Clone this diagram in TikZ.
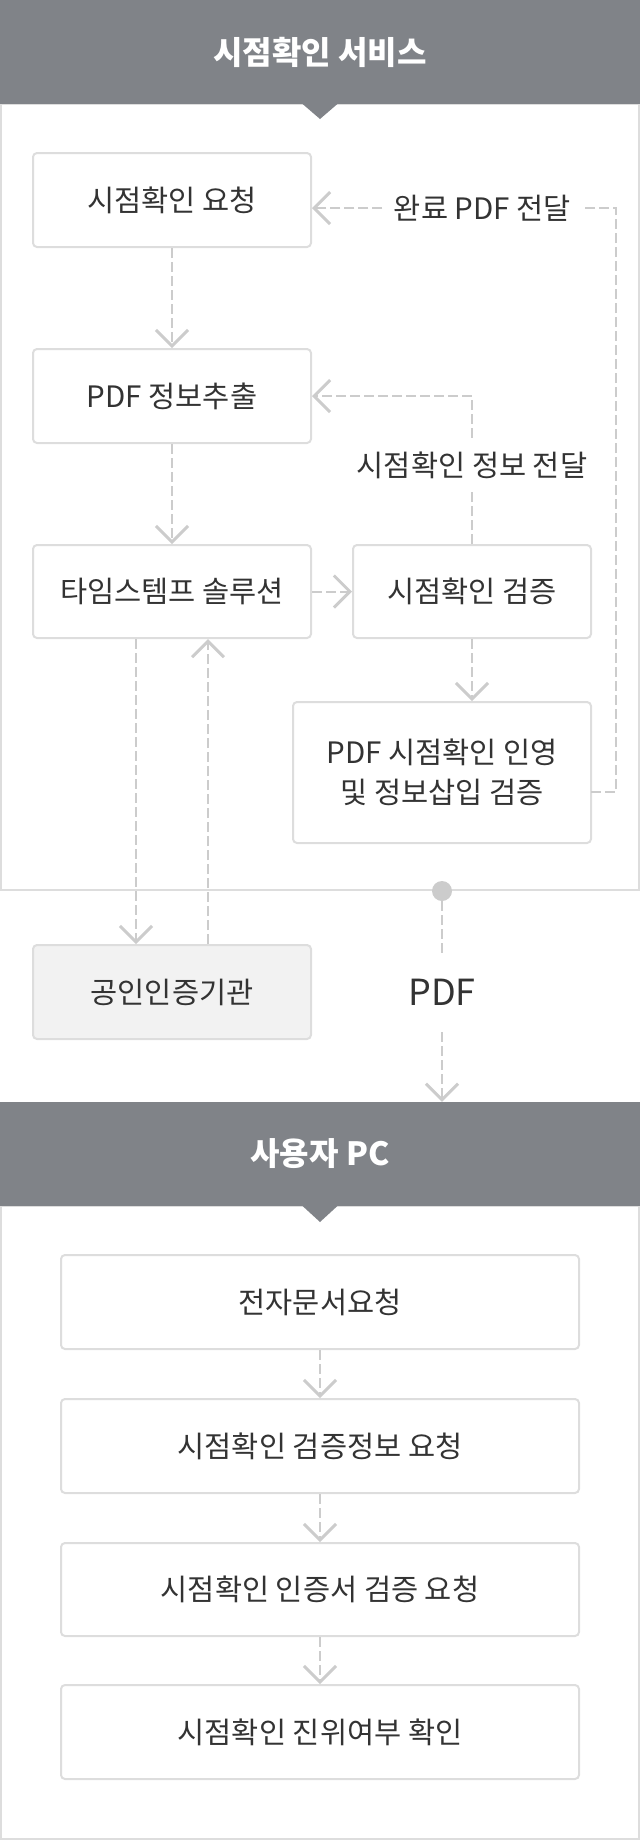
\documentclass[tikz,border=0pt]{standalone}
\usepackage{fontspec}
\setmainfont{Noto Sans CJK KR}
\usetikzlibrary{arrows.meta,calc}
\definecolor{hdr}{HTML}{808388}
\definecolor{bord}{HTML}{DDDDDD}
\definecolor{conn}{HTML}{CCCCCC}
\definecolor{txt}{HTML}{333333}
\definecolor{cafill}{HTML}{F2F2F2}
\newcommand\kbody{\fontsize{29.5pt}{40pt}\selectfont}
\newcommand\khead{\bfseries\fontsize{32pt}{38pt}\selectfont}
\newcommand\kbig{\fontsize{36pt}{42pt}\selectfont}
\begin{document}
\begin{tikzpicture}[x=1pt,y=-1pt,
  box/.style={draw=bord, line width=2pt, rounded corners=4pt, fill=white,
    minimum height=94pt, inner sep=0pt, text=txt, font=\kbody, align=center},
  hdrbox/.style={fill=hdr, minimum width=640pt, minimum height=104pt,
    inner sep=0pt, text=white, font=\khead},
  lbl/.style={inner sep=0pt, text=txt, font=\kbody},
  frame/.style={draw=bord, line width=2pt},
  dl/.style={draw=conn, line width=2pt, dash pattern=on 10pt off 4pt},
  arr/.style={dl, -{Straight Barb[length=16pt,width=32pt,line width=3pt]}}
]
\useasboundingbox (0,0) rectangle (640,1840);
% frames
\draw[frame] (1,104) rectangle (639,890);
\draw[frame] (1,1206) rectangle (639,1839);
% headers
\node[hdrbox] (h1) at (320,52) {시점확인 서비스};
\fill[hdr] (302,103.5) -- (338,103.5) -- (320,119) -- cycle;
\node[hdrbox] (h2) at (320,1154) {사용자 PC};
\fill[hdr] (302,1205.5) -- (338,1205.5) -- (320,1222) -- cycle;
% service boxes
\node[box, minimum width=278pt] (b1) at (172,200) {시점확인 요청};
\node[box, minimum width=278pt] (b2) at (172,396) {PDF 정보추출};
\node[box, minimum width=278pt, minimum height=93pt] (b3) at (172,591.5) {타임스템프 솔루션};
\node[box, minimum width=238pt, minimum height=93pt] (bv) at (472,591.5) {시점확인 검증};
\node[box, minimum width=298pt, minimum height=141pt] (b5) at (442,772.5) {PDF 시점확인 인영\\ 및 정보삽입 검증};
\node[box, minimum width=278pt, fill=cafill] (ca) at (172,992) {공인인증기관};
% user boxes
\node[box, minimum width=518pt] (ua) at (320,1302) {전자문서요청};
\node[box, minimum width=518pt] (ub) at (320,1446) {시점확인 검증정보 요청};
\node[box, minimum width=518pt, minimum height=93pt] (uc) at (320,1589.5) {시점확인 인증서 검증 요청};
\node[box, minimum width=518pt] (ud) at (320,1732) {시점확인 진위여부 확인};
% labels
\node[lbl, minimum width=200pt] (l1) at (482.5,208) {완료 PDF 전달};
\node[lbl, minimum height=54pt] (l2) at (472,465) {시점확인 정보 전달};
\node[lbl, minimum height=79pt, font=\kbig] (lp) at (442,992.5) {PDF};
\node[circle, fill=conn, minimum size=20pt, inner sep=0pt] (dot) at (442,891) {};
\coordinate (b5r) at (591,792);
\coordinate (rc) at (616,792);
% connectors
\draw[arr] (b1.south) -- (b2.north);
\draw[arr] (b2.south) -- (b3.north);
\draw[arr] (b3.east) -- (bv.west);
\draw[arr] (bv.south) -- (bv.south |- b5.north);
\draw[dl] (bv.north) -- (l2.south);
\draw[arr] (l2.north) |- (b2.east);
\draw[dl] (b5r) -- (rc) |- (l1.east);
\draw[arr] (l1.west) -- (l1.west -| b1.east);
\draw[arr] ([xshift=-36pt]b3.south) -- ([xshift=-36pt]ca.north);
\draw[arr] ([xshift=36pt]ca.north) -- ([xshift=36pt]b3.south);
\draw[dl] (dot.south) -- (lp.north);
\draw[arr] (lp.south) -- (lp.south |- h2.north);
\draw[arr] (ua.south) -- (ub.north);
\draw[arr] (ub.south) -- (uc.north);
\draw[arr] (uc.south) -- (ud.north);
\end{tikzpicture}
\end{document}
